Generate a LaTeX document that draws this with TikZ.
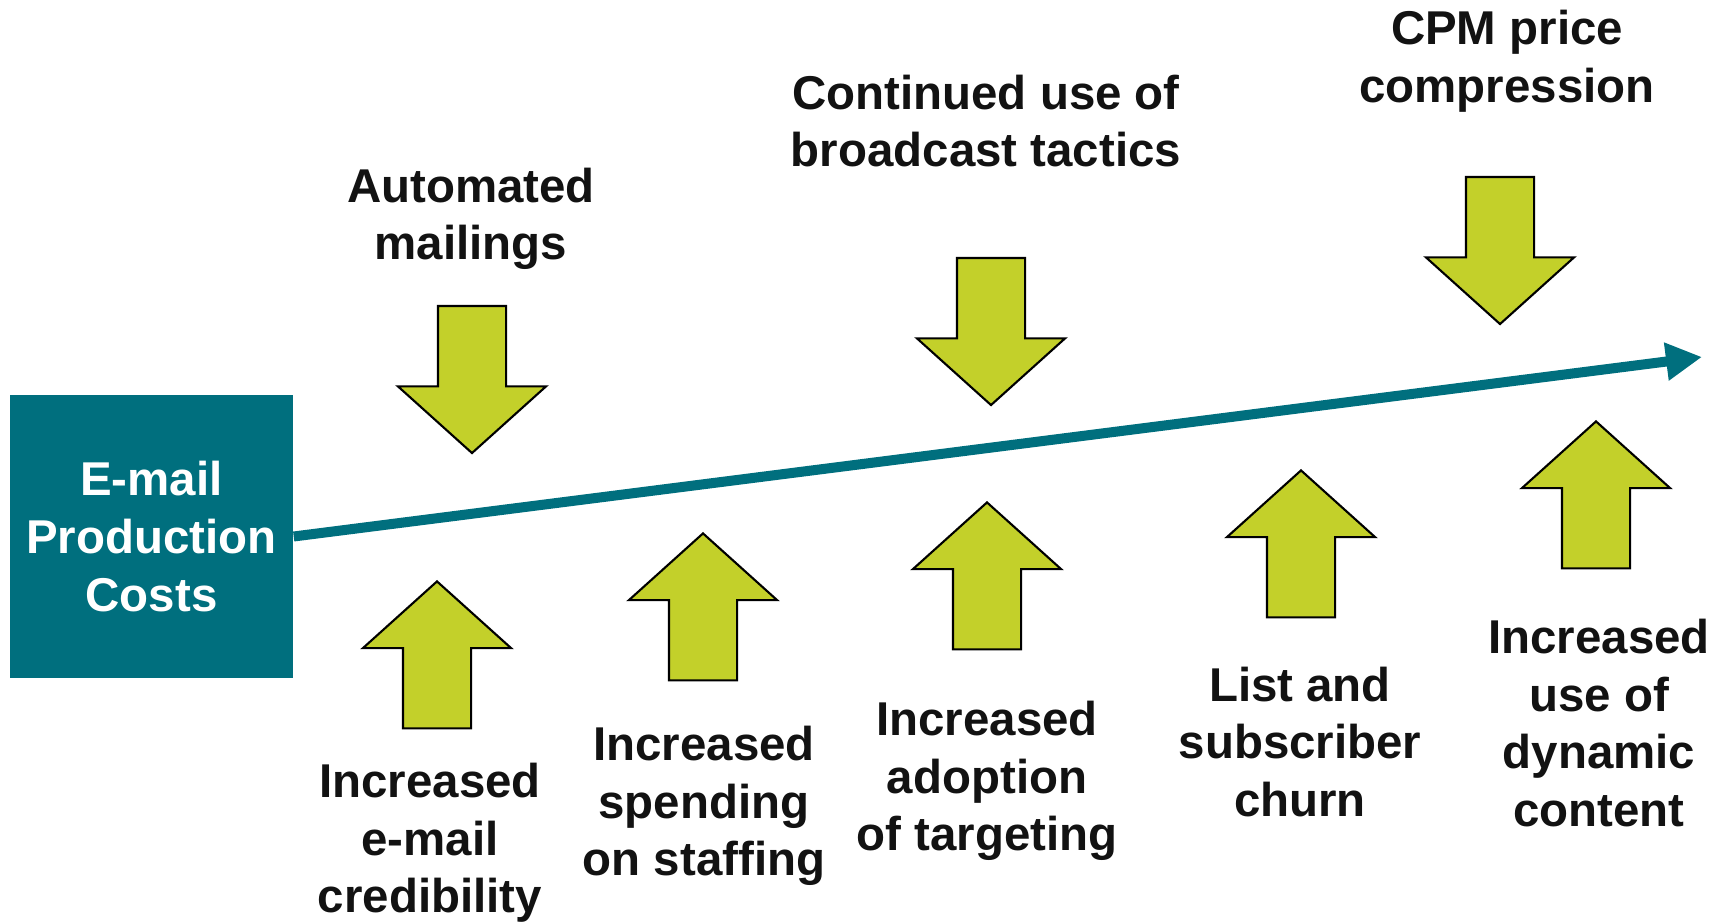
\documentclass[tikz,border=0pt]{standalone}
\usepackage{fontspec}
\setmainfont{Liberation Sans}
\usetikzlibrary{shapes.arrows,arrows.meta}

\definecolor{costteal}{HTML}{006F7E}
\definecolor{pushlime}{HTML}{C3D02A}

\begin{document}
\begin{tikzpicture}[
  every node/.style={font=\fontsize{13.5}{16.4}\selectfont\bfseries},
  costbox/.style={rectangle, fill=costteal, text=white, align=center, minimum width=2.83cm, minimum height=2.83cm, inner sep=0pt},
  blockarrow/.style={single arrow, draw=black, line width=0.6pt, fill=pushlime, minimum width=1.46cm, minimum height=1.47cm, single arrow head extend=0.4cm, single arrow tip angle=96, inner sep=0.33cm},
  downarrow/.style={blockarrow, shape border rotate=270, anchor=tail},
  uparrow/.style={blockarrow, shape border rotate=90, anchor=tip},
  factor/.style={align=center, text=black!93},
  trend/.style={-{Triangle[length=0.36cm, width=0.36cm]}, line width=0.1cm, costteal},
]
\useasboundingbox (0,0) rectangle (17.27,9.21);

% Cost box and trend line
\node[costbox] (cost) at (1.515, 3.845) {E-mail\\Production\\Costs};
\coordinate (trendtip) at (17.02, 5.64);
\draw[trend] (cost.east) -- (trendtip);

% Pushing costs down (above the line)
\node[downarrow] (d1) at (4.72, 6.16) {};
\node[downarrow] (d2) at (9.91, 6.64) {};
\node[downarrow] (d3) at (15.00, 7.45) {};
\node[factor] (automated) at (4.71, 7.02) {Automated\\mailings};
\node[factor] (broadcast) at (9.86, 8.00) {Continued use of\\broadcast tactics};
\node[factor] (cpm) at (15.07, 8.60) {CPM price\\compression};

% Pushing costs up (below the line)
\node[uparrow] (u1) at (4.37, 3.41) {};
\node[uparrow] (u2) at (7.03, 3.89) {};
\node[uparrow] (u3) at (9.87, 4.20) {};
\node[uparrow] (u4) at (13.01, 4.52) {};
\node[uparrow] (u5) at (15.96, 5.01) {};
\node[factor] (credibility) at (4.30, 0.78) {Increased\\e-mail\\credibility};
\node[factor] (staffing) at (7.04, 1.15) {Increased\\spending\\on staffing};
\node[factor] (targeting) at (9.87, 1.40) {Increased\\adoption\\of targeting};
\node[factor] (churn) at (13.00, 1.79) {List and\\subscriber\\churn};
\node[factor] (dynamic) at (15.99, 1.98) {Increased\\use of\\dynamic\\content};

\end{tikzpicture}
\end{document}
